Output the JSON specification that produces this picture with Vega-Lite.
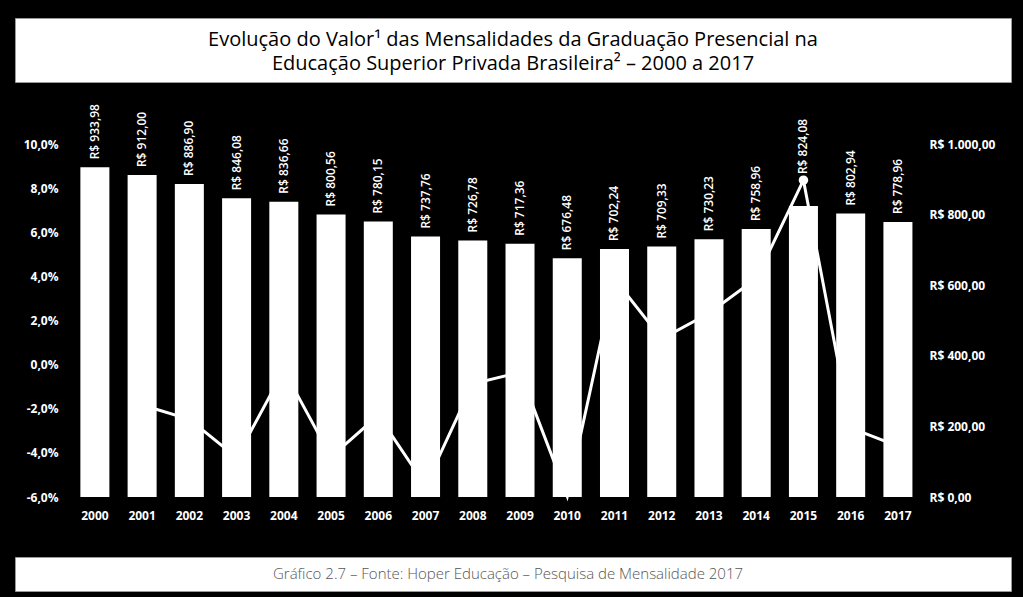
{
  "$schema": "https://vega.github.io/schema/vega-lite/v6.json",
  "background": "black",
  "padding": {"left": 14, "top": 17, "right": 20, "bottom": 20},
  "spacing": 21,
  "config": {
    "view": {"stroke": null},
    "locale": {"number": {"decimal": ",", "thousands": ".", "grouping": [3], "currency": ["R$ ", ""], "minus": "-", "percent": "%"}},
    "axis": {"domain": false, "ticks": false, "tickSize": 0, "grid": false, "labelColor": "white", "labelFont": "Open Sans", "labelFontWeight": "bold", "labelFontSize": 12, "labelOverlap": false, "title": null},
    "text": {"font": "Open Sans"}
  },
  "datasets": {
    "mensalidades": [
      {"ano": 2000, "valor": 933.98, "variacao": null},
      {"ano": 2001, "valor": 912.00, "variacao": -0.0183},
      {"ano": 2002, "valor": 886.90, "variacao": -0.0248},
      {"ano": 2003, "valor": 846.08, "variacao": -0.0421},
      {"ano": 2004, "valor": 836.66, "variacao": -0.0025},
      {"ano": 2005, "valor": 800.56, "variacao": -0.0418},
      {"ano": 2006, "valor": 780.15, "variacao": -0.0230},
      {"ano": 2007, "valor": 737.76, "variacao": -0.0548},
      {"ano": 2008, "valor": 726.78, "variacao": -0.0087},
      {"ano": 2009, "valor": 717.36, "variacao": -0.0035},
      {"ano": 2010, "valor": 676.48, "variacao": -0.0597},
      {"ano": 2011, "valor": 702.24, "variacao": 0.0388},
      {"ano": 2012, "valor": 709.33, "variacao": 0.0117},
      {"ano": 2013, "valor": 730.23, "variacao": 0.0233},
      {"ano": 2014, "valor": 758.96, "variacao": 0.0390},
      {"ano": 2015, "valor": 824.08, "variacao": 0.0836},
      {"ano": 2016, "valor": 802.94, "variacao": -0.0287},
      {"ano": 2017, "valor": 778.96, "variacao": -0.0369}
    ],
    "titulo": [
      {"linha": 1, "texto": "Evolução do Valor¹ das Mensalidades da Graduação Presencial na"},
      {"linha": 2, "texto": "Educação Superior Privada Brasileira² – 2000 a 2017"}
    ],
    "rodape": [
      {"texto": "Gráfico 2.7 – Fonte: Hoper Educação – Pesquisa de Mensalidade 2017"}
    ]
  },
  "vconcat": [
    {
      "width": 996,
      "height": 64,
      "view": {"fill": "white", "stroke": "#9a9a9a"},
      "data": {"name": "titulo"},
      "mark": {"type": "text", "font": "Open Sans", "fontSize": 20, "color": "black", "baseline": "middle", "dy": 2},
      "encoding": {
        "y": {"field": "linha", "type": "ordinal", "axis": null, "scale": {"padding": 0.8}},
        "text": {"field": "texto", "type": "nominal"}
      }
    },
    {
      "spacing": 35,
      "vconcat": [
        {
          "width": 996,
          "height": 353,
          "data": {"name": "mensalidades"},
          "encoding": {
            "x": {"field": "ano", "type": "ordinal", "scale": {"paddingInner": 0.386, "paddingOuter": 0.19, "range": [56.4, 906.4]}, "axis": {"labelAngle": 0, "labelPadding": 13}}
          },
          "layer": [
            {
              "layer": [
                {
                  "mark": {"type": "line", "color": "white", "strokeWidth": 3},
                  "encoding": {
                    "y": {"field": "variacao", "type": "quantitative", "scale": {"domain": [-0.06, 0.10], "nice": false, "zero": false},
                      "axis": {"orient": "left", "offset": -56, "values": [-0.06, -0.04, -0.02, 0, 0.02, 0.04, 0.06, 0.08, 0.10], "format": ".1%", "labelPadding": 13}}
                  }
                },
                {
                  "transform": [{"filter": "datum.ano == 2015"}],
                  "mark": {"type": "point", "filled": true, "color": "white", "size": 90, "opacity": 1},
                  "encoding": {"y": {"field": "variacao", "type": "quantitative"}}
                }
              ]
            },
            {
              "layer": [
                {
                  "mark": {"type": "bar", "color": "white"},
                  "encoding": {
                    "y": {"field": "valor", "type": "quantitative", "scale": {"domain": [0, 1000], "nice": false},
                      "axis": {"orient": "right", "offset": -90, "values": [0, 100, 200, 300, 400, 500, 600, 700, 800, 900, 1000], "format": "$,.2f", "labelPadding": 8}}
                  }
                },
                {
                  "transform": [{"filter": "datum.ano != 2015"}],
                  "mark": {"type": "text", "angle": 270, "align": "left", "baseline": "middle", "dx": 8, "color": "white", "fontSize": 12, "fontWeight": 600},
                  "encoding": {
                    "y": {"field": "valor", "type": "quantitative"},
                    "text": {"field": "valor", "type": "quantitative", "format": "$,.2f"}
                  }
                },
                {
                  "transform": [{"filter": "datum.ano == 2015"}],
                  "mark": {"type": "text", "angle": 270, "align": "left", "baseline": "middle", "dx": 32, "color": "white", "fontSize": 12, "fontWeight": 600},
                  "encoding": {
                    "y": {"field": "valor", "type": "quantitative"},
                    "text": {"field": "valor", "type": "quantitative", "format": "$,.2f"}
                  }
                }
              ]
            }
          ],
          "resolve": {"scale": {"y": "independent"}}
        },
        {
          "width": 996,
          "height": 34,
          "view": {"fill": "white", "stroke": "#9a9a9a"},
          "data": {"name": "rodape"},
          "mark": {"type": "text", "font": "Open Sans", "fontSize": 15, "fontWeight": 300, "color": "#555555", "dx": -5},
          "encoding": {
            "text": {"field": "texto", "type": "nominal"}
          }
        }
      ]
    }
  ]
}
